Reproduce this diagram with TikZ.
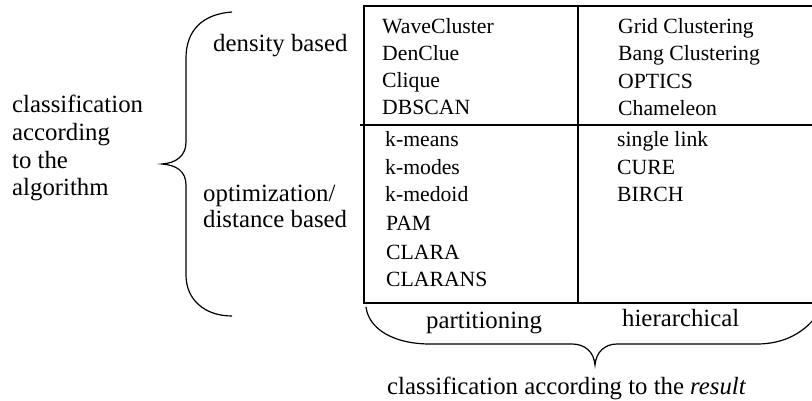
\documentclass[tikz,border=0pt]{standalone}
\usepackage{fontspec}
\setmainfont{Liberation Serif}
\begin{document}
\begin{tikzpicture}[x=1pt,y=-1pt,
  entry/.style={anchor=base west,inner sep=0pt,font=\fontsize{21.7}{26}\selectfont},
  lbl/.style={anchor=base west,inner sep=0pt,font=\fontsize{24.8}{27}\selectfont},
  frame/.style={line width=2pt},
  brace/.style={line width=1.2pt}]
\useasboundingbox (0,0) rectangle (812,401);
\clip (0,0) rectangle (812,401);

% table frame
\draw[frame] (812,6) -- (364,6) -- (364,303) -- (812,303);
\draw[frame] (360,125) -- (812,125);
\draw[frame] (578,6) -- (578,303);

% density based / partitioning
\node[entry] (wc) at (382,34) {WaveCluster};
\node[entry] (dc) at (382,61) {DenClue};
\node[entry] (cq) at (382,88) {Clique};
\node[entry] (db) at (382,115) {DBSCAN};
% density based / hierarchical
\node[entry] (gc) at (618,34) {Grid Clustering};
\node[entry] (bc) at (618,61) {Bang Clustering};
\node[entry] (op) at (618,89) {OPTICS};
\node[entry] (ch) at (618,116) {Chameleon};
% optimization / partitioning
\node[entry] (km) at (385,147) {k-means};
\node[entry] (kmo) at (385,175) {k-modes};
\node[entry] (kme) at (385,202) {k-medoid};
\node[entry] (pam) at (386,230) {PAM};
\node[entry] (cla) at (386,259) {CLARA};
\node[entry] (clr) at (386,287) {CLARANS};
% optimization / hierarchical
\node[entry] (sl) at (617,147) {single link};
\node[entry] (cu) at (617,175) {CURE};
\node[entry] (bi) at (617,202) {BIRCH};

% row labels
\node[lbl] (dens) at (213,52) {density based};
\node[lbl] (opt1) at (203,201) {optimization/};
\node[lbl] (opt2) at (203,228) {distance based};

% left classification
\node[lbl] (c1) at (12,113) {classification};
\node[lbl] (c2) at (12,141) {according};
\node[lbl] (c3) at (12,169) {to the};
\node[lbl] (c4) at (12,196) {algorithm};

% column labels
\node[lbl] (part) at (426,328) {partitioning};
\node[lbl] (hier) at (622,326) {hierarchical};
\node[lbl] (res) at (387,394) {classification according to the \textit{result}};

% left brace
\coordinate (lt) at (162,164);
\draw[brace] (232,12) .. controls (203,14) and (186,30) .. (186,58) -- (186,142)
  .. controls (186,156) and (176,163) .. (lt)
  .. controls (176,165) and (186,171) .. (186,185) -- (186,275)
  .. controls (186,300) and (205,316) .. (232,316);

% bottom brace
\coordinate (bt) at (595,365);
\draw[brace] (366,307) .. controls (369,330) and (395,344) .. (430,344) -- (572,344)
  .. controls (585,344) and (594,352) .. (bt)
  .. controls (596,352) and (605,344) .. (617,344) -- (757,344)
  .. controls (785,344) and (805,332) .. (818,314);
\end{tikzpicture}
\end{document}
